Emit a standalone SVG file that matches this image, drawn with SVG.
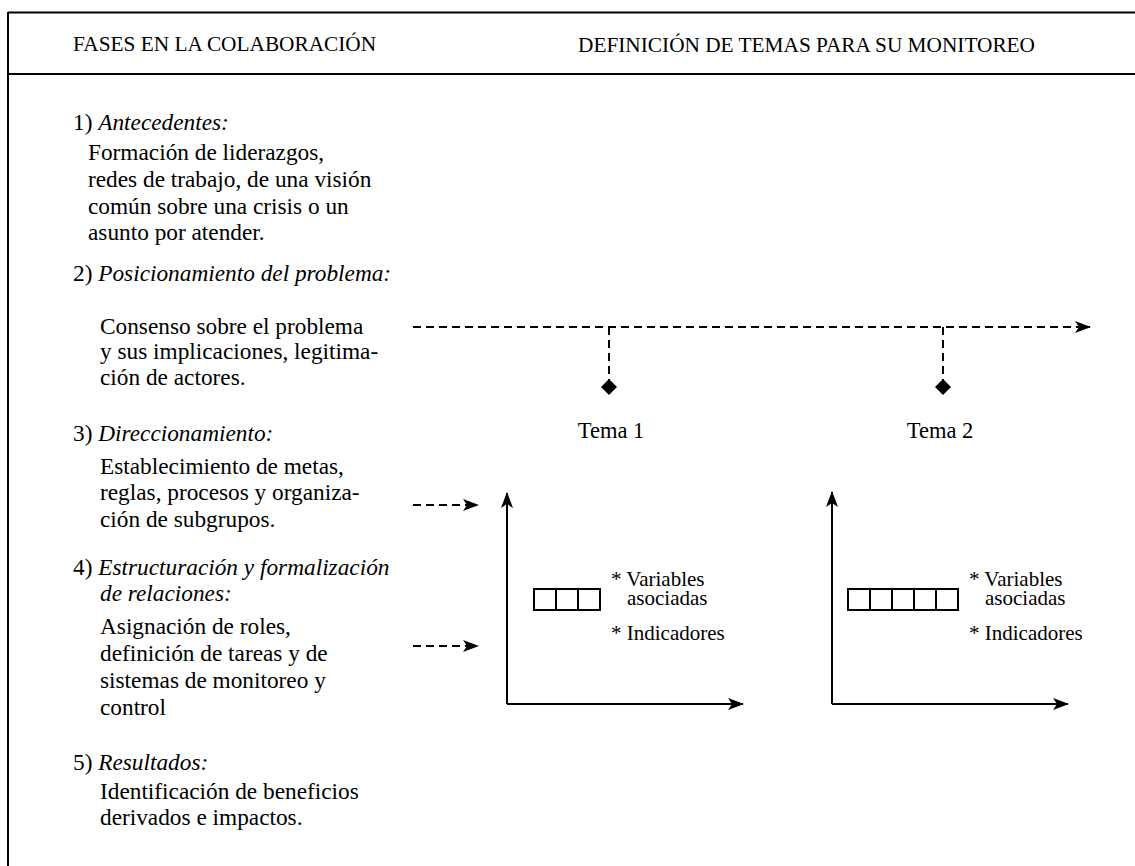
<svg xmlns="http://www.w3.org/2000/svg" width="1135" height="866" viewBox="0 0 1135 866">
<style>
text{font-family:'Liberation Serif','Times New Roman',serif;fill:#000}
.hdr{font-size:21.3px}
.b{font-size:23.3px}
.it{font-style:italic}
.lbl{font-size:21px}
.tema{font-size:22.5px}
.ln{stroke:#000;stroke-width:2;fill:none}
.dash{stroke:#000;stroke-width:2;stroke-dasharray:8 5;fill:none}
.box{stroke:#000;stroke-width:2;fill:#fff}
</style>
<defs>
<marker id="arr" viewBox="0 0 16 12" markerWidth="16" markerHeight="12" refX="15" refY="6" orient="auto" markerUnits="userSpaceOnUse">
<path d="M0,0 L16,6 L0,12 L4,6 Z" fill="#000"/>
</marker>
</defs>
<rect width="1135" height="866" fill="#fff"/>
<g id="frame">
<path class="ln" d="M8,12.5 H1135 M8,74 H1135 M8,12 V866"/>
<text class="hdr" x="73" y="51">FASES EN LA COLABORACIÓN</text>
<text class="hdr" x="1035" y="52" text-anchor="end">DEFINICIÓN DE TEMAS PARA SU MONITOREO</text>
</g>
<g id="fase1">
<text class="b" x="73" y="130">1) <tspan class="it">Antecedentes:</tspan></text>
<text class="b" x="88" y="160">Formación de liderazgos,</text>
<text class="b" x="88" y="187">redes de trabajo, de una visión</text>
<text class="b" x="88" y="214">común sobre una crisis o un</text>
<text class="b" x="88" y="240">asunto por atender.</text>
</g>
<g id="fase2">
<text class="b" x="73" y="281">2) <tspan class="it">Posicionamiento del problema:</tspan></text>
<text class="b" x="100" y="334">Consenso sobre el problema</text>
<text class="b" x="100" y="359">y sus implicaciones, legitima-</text>
<text class="b" x="100" y="385">ción de actores.</text>
</g>
<g id="fase3">
<text class="b" x="73" y="441">3) <tspan class="it">Direccionamiento:</tspan></text>
<text class="b" x="100" y="474">Establecimiento de metas,</text>
<text class="b" x="100" y="500">reglas, procesos y organiza-</text>
<text class="b" x="100" y="527">ción de subgrupos.</text>
</g>
<g id="fase4">
<text class="b" x="73" y="575">4) <tspan class="it">Estructuración y formalización</tspan></text>
<text class="b it" x="100" y="601">de relaciones:</text>
<text class="b" x="100" y="634">Asignación de roles,</text>
<text class="b" x="100" y="661">definición de tareas y de</text>
<text class="b" x="100" y="688">sistemas de monitoreo y</text>
<text class="b" x="100" y="715">control</text>
</g>
<g id="fase5">
<text class="b" x="73" y="770">5) <tspan class="it">Resultados:</tspan></text>
<text class="b" x="100" y="799">Identificación de beneficios</text>
<text class="b" x="100" y="825">derivados e impactos.</text>
</g>
<g id="connectors">
<path class="dash" d="M413,327 H1090" marker-end="url(#arr)"/>
<path class="dash" d="M609,327 V380"/>
<path class="dash" d="M943,327 V380"/>
<path class="dash" d="M413,505 H478" marker-end="url(#arr)"/>
<path class="dash" d="M413,646 H478" marker-end="url(#arr)"/>
</g>
<g id="tema1">
<polygon points="609,379 617,387 609,395 601,387" fill="#000"/>
<text class="tema" x="611" y="438" text-anchor="middle">Tema 1</text>
<path class="ln" d="M507,704 V493" marker-end="url(#arr)"/>
<path class="ln" d="M507,704 H743" marker-end="url(#arr)"/>
<rect class="box" x="534" y="589" width="22" height="21"/>
<rect class="box" x="556" y="589" width="22" height="21"/>
<rect class="box" x="578" y="589" width="22" height="21"/>
<text class="lbl"><tspan x="611" y="586">* Variables</tspan><tspan x="627" y="605">asociadas</tspan></text>
<text class="lbl" x="611" y="640">* Indicadores</text>
</g>
<g id="tema2">
<polygon points="943,379 951,387 943,395 935,387" fill="#000"/>
<text class="tema" x="940" y="438" text-anchor="middle">Tema 2</text>
<path class="ln" d="M832,704 V492" marker-end="url(#arr)"/>
<path class="ln" d="M832,704 H1068" marker-end="url(#arr)"/>
<rect class="box" x="848" y="589" width="22" height="21"/>
<rect class="box" x="870" y="589" width="22" height="21"/>
<rect class="box" x="892" y="589" width="22" height="21"/>
<rect class="box" x="914" y="589" width="22" height="21"/>
<rect class="box" x="936" y="589" width="22" height="21"/>
<text class="lbl"><tspan x="969" y="586">* Variables</tspan><tspan x="985" y="605">asociadas</tspan></text>
<text class="lbl" x="969" y="640">* Indicadores</text>
</g>
</svg>
